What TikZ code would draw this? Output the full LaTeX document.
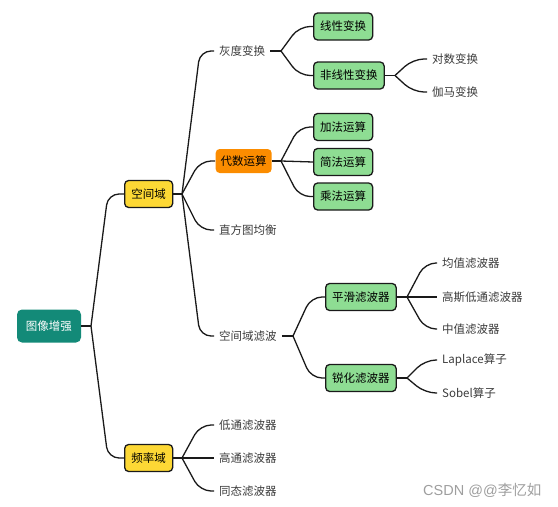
\documentclass[tikz,border=0pt]{standalone}
\usepackage{fontspec}
\setmainfont{Noto Sans CJK SC}
\newfontfamily\markfont{Liberation Sans}
\usetikzlibrary{positioning,calc}
\definecolor{Ink}{HTML}{1A1A1A}
\definecolor{Teal}{HTML}{138A78}
\definecolor{Yellow}{HTML}{FDD835}
\definecolor{Orange}{HTML}{FB8C00}
\definecolor{Green}{HTML}{8EDD93}
\definecolor{Mark}{HTML}{9E9E9E}

\begin{document}
\begin{tikzpicture}[x=1pt, y=-1pt,
    font=\fontsize{11.5}{13}\selectfont,
    root/.style={fill=Teal, text=white, rounded corners=5pt, minimum width=64pt, minimum height=33pt},
    box/.style={draw=Ink, line width=1.3pt, rounded corners=4pt, minimum height=27pt, inner xsep=6.5pt, text=black, anchor=west},
    leaf/.style={text=Ink!85, inner xsep=5pt, inner ysep=2pt, anchor=west},
    link/.style={line width=1.3pt, draw=Ink},
    fan/.style={link, rounded corners=11pt}
  ]
    \useasboundingbox (0,0) rectangle (558,507);

    \node[root] (enh) at (49,326) {图像增强};
    \coordinate (j0) at (91,326);

    \node[box, fill=Yellow, minimum width=48pt] (spa) at (124,194) {空间域};
    \node[box, fill=Yellow, minimum width=48pt] (frq) at (124,458) {频率域};
    \coordinate (j1) at (182,194);
    \coordinate (j8) at (182,458);

    \node[leaf] (gray) at (214,51) {灰度变换};
    \node[box, fill=Orange, draw=none, minimum height=24pt, inner xsep=5pt] (alg) at (215,161) {代数运算};
    \node[leaf] (hist) at (214,230) {直方图均衡};
    \node[leaf] (filt) at (214,336) {空间域滤波};
    \coordinate (j2) at (281,51);
    \coordinate (j4) at (281,161);
    \coordinate (j5) at (293,336);

    \node[box, fill=Green] (lin) at (313,26.5) {线性变换};
    \node[box, fill=Green] (nlin) at (313,75.5) {非线性变换};
    \coordinate (j3) at (395,75.5);
    \node[leaf] (log) at (427,59) {对数变换};
    \node[leaf] (gam) at (427,92) {伽马变换};

    \node[box, fill=Green] (add) at (313,127) {加法运算};
    \node[box, fill=Green] (sub) at (313,162) {简法运算};
    \node[box, fill=Green] (mul) at (313,196.5) {乘法运算};

    \node[box, fill=Green] (smo) at (325,297) {平滑滤波器};
    \node[box, fill=Green] (shp) at (325,378) {锐化滤波器};
    \coordinate (j6) at (407,297);
    \coordinate (j7) at (407,378);
    \node[leaf] (mean) at (437,263) {均值滤波器};
    \node[leaf] (gaus) at (437,297) {高斯低通滤波器};
    \node[leaf] (med) at (437,329) {中值滤波器};
    \node[leaf] (lap) at (437,360) {Laplace算子};
    \node[leaf] (sob) at (437,393) {Sobel算子};

    \node[leaf] (low) at (214,425) {低通滤波器};
    \node[leaf] (high) at (214,458) {高通滤波器};
    \node[leaf] (homo) at (214,491) {同态滤波器};

    \node[text=Mark, anchor=west, inner sep=0pt, font=\fontsize{14.5}{16}\selectfont] (csdn) at (423,490) {{\markfont CSDN @@}李忆如};

    \draw[link] (enh.east) -- (j0);
    \draw[fan] (j0) -- ([xshift=17pt]j0 |- spa.west) -- (spa.west);
    \draw[fan] (j0) -- ([xshift=17pt]j0 |- frq.west) -- (frq.west);

    \draw[link] (spa.east) -- (j1);
    \draw[fan] (j1) -- ([xshift=18pt]j1 |- gray.west) -- (gray.west);
    \draw[fan] (j1) -- ([xshift=18pt]j1 |- alg.west) -- (alg.west);
    \draw[fan] (j1) -- ([xshift=18pt]j1 |- hist.west) -- (hist.west);
    \draw[fan] (j1) -- ([xshift=18pt]j1 |- filt.west) -- (filt.west);

    \draw[link] (gray.east) -- (j2);
    \draw[fan] (j2) -- ([xshift=18pt]j2 |- lin.west) -- (lin.west);
    \draw[fan] (j2) -- ([xshift=18pt]j2 |- nlin.west) -- (nlin.west);

    \draw[link] (nlin.east) -- (j3);
    \draw[fan] (j3) -- ([xshift=18pt]j3 |- log.west) -- (log.west);
    \draw[fan] (j3) -- ([xshift=18pt]j3 |- gam.west) -- (gam.west);

    \draw[link] (alg.east) -- (j4);
    \draw[fan] (j4) -- ([xshift=18pt]j4 |- add.west) -- (add.west);
    \draw[link] (j4) -- (sub.west);
    \draw[fan] (j4) -- ([xshift=18pt]j4 |- mul.west) -- (mul.west);

    \draw[link] (filt.east) -- (j5);
    \draw[fan] (j5) -- ([xshift=18pt]j5 |- smo.west) -- (smo.west);
    \draw[fan] (j5) -- ([xshift=18pt]j5 |- shp.west) -- (shp.west);

    \draw[link] (smo.east) -- (j6);
    \draw[fan] (j6) -- ([xshift=18pt]j6 |- mean.west) -- (mean.west);
    \draw[link] (j6) -- (gaus.west);
    \draw[fan] (j6) -- ([xshift=18pt]j6 |- med.west) -- (med.west);

    \draw[link] (shp.east) -- (j7);
    \draw[fan] (j7) -- ([xshift=18pt]j7 |- lap.west) -- (lap.west);
    \draw[fan] (j7) -- ([xshift=18pt]j7 |- sob.west) -- (sob.west);

    \draw[link] (frq.east) -- (j8);
    \draw[fan] (j8) -- ([xshift=18pt]j8 |- low.west) -- (low.west);
    \draw[link] (j8) -- (high.west);
    \draw[fan] (j8) -- ([xshift=18pt]j8 |- homo.west) -- (homo.west);
  \end{tikzpicture}
\end{document}
